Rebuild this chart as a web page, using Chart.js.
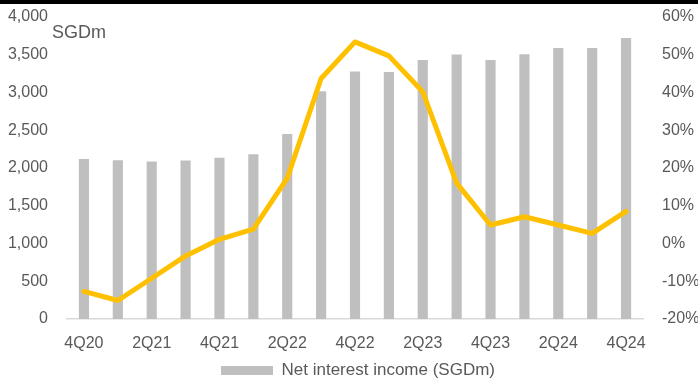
<!DOCTYPE html>
<html>
<head>
<meta charset="utf-8">
<style>
  html, body { margin: 0; padding: 0; background: #ffffff; }
  #wrap { position: relative; width: 698px; height: 383px; }
</style>
<script src="https://cdn.jsdelivr.net/npm/chart.js@4/dist/chart.umd.min.js"></script>
</head>
<body>
<div id="wrap"><canvas id="c" width="698" height="383"></canvas></div>
<script>
// Quarterly net interest income and its year-on-year growth
const quarters = ['4Q20','1Q21','2Q21','3Q21','4Q21','1Q22','2Q22','3Q22','4Q22',
                  '1Q23','2Q23','3Q23','4Q23','1Q24','2Q24','3Q24','4Q24'];
const netInterestIncome = [2120, 2102, 2085, 2098, 2136, 2182, 2450, 3018, 3278,
                           3270, 3432, 3503, 3432, 3507, 3590, 3590, 3723];
const yoyGrowthPct = [-12.7, -15.1, -9.2, -3.3, 1.1, 3.8, 17.3, 43.7, 53.4,
                      49.7, 40.2, 16.0, 4.9, 7.1, 4.9, 2.7, 8.5];
const leftTicks = { min: 0, max: 4000, step: 500 };
const rightTicks = { min: -20, max: 60, step: 10 };
const unitLabel = 'SGDm';

const FONT = "'Liberation Sans', Arial, sans-serif";
const TEXT = '#595959';

// Black rule across the top edge, the unit caption above the left axis,
// and the legend centred under the plot rather than the whole canvas
const decorations = {
  id: 'decorations',
  afterLayout(chart) {
    if (chart.legend) chart.legend.left += 18;
  },
  beforeDraw(chart) {
    const ctx = chart.ctx;
    ctx.save();
    ctx.fillStyle = '#ffffff';
    ctx.fillRect(0, 0, chart.width, chart.height);
    ctx.fillStyle = '#000000';
    ctx.fillRect(0, 0, chart.width, 4);
    ctx.restore();
  },
  afterDraw(chart) {
    const ctx = chart.ctx;
    const a = chart.chartArea;
    ctx.save();
    ctx.font = '18px ' + FONT;
    ctx.fillStyle = TEXT;
    ctx.textAlign = 'left';
    ctx.textBaseline = 'middle';
    ctx.fillText(unitLabel, a.left - 15, a.top + 16);
    ctx.restore();
  }
};

// Fixed axis widths; tick labels may overhang the plot without shrinking it
const fitVertical = width => s => {
  s.width = width;
  s.paddingTop = 0;
  s.paddingBottom = 0;
};

new Chart(document.getElementById('c'), {
  data: {
    labels: quarters,
    datasets: [
      {
        type: 'line',
        label: 'YoY growth',
        data: yoyGrowthPct,
        yAxisID: 'y1',
        borderColor: '#FFC000',
        backgroundColor: '#FFC000',
        borderWidth: 5,
        pointRadius: 0,
        pointHoverRadius: 0,
        tension: 0,
        borderJoinStyle: 'round',
        borderCapStyle: 'round',
        order: 0
      },
      {
        type: 'bar',
        label: 'Net interest income (SGDm)',
        data: netInterestIncome,
        yAxisID: 'y',
        backgroundColor: '#BFBFBF',
        borderWidth: 0,
        categoryPercentage: 1,
        barPercentage: 0.30,
        order: 1
      }
    ]
  },
  options: {
    responsive: false,
    animation: false,
    devicePixelRatio: 1,
    layout: { padding: { top: 17, left: 0, right: 0, bottom: 0 } },
    plugins: {
      tooltip: { enabled: false },
      legend: {
        display: true,
        position: 'bottom',
        maxHeight: 27,
        labels: {
          filter: item => item.datasetIndex === 1,
          boxWidth: 52,
          boxHeight: 9,
          padding: 6,
          color: TEXT,
          font: { family: FONT, size: 17 }
        }
      }
    },
    scales: {
      x: {
        grid: { display: false, drawTicks: false },
        border: { display: true, color: '#D9D9D9', width: 1.5 },
        ticks: {
          autoSkip: false,
          maxRotation: 0,
          padding: 15,
          color: TEXT,
          font: { family: FONT, size: 16 },
          callback: (v, i) => (i % 2 === 0 ? quarters[i] : '')
        },
        afterFit: s => { s.height = 37; }
      },
      y: {
        position: 'left',
        min: leftTicks.min,
        max: leftTicks.max,
        grid: { display: false, drawTicks: false },
        border: { display: false },
        ticks: {
          stepSize: leftTicks.step,
          padding: 19,
          color: TEXT,
          font: { family: FONT, size: 16 },
          callback: v => v.toLocaleString('en-US')
        },
        afterFit: fitVertical(67)
      },
      y1: {
        position: 'right',
        min: rightTicks.min,
        max: rightTicks.max,
        grid: { display: false, drawTicks: false },
        border: { display: false },
        ticks: {
          stepSize: rightTicks.step,
          padding: 19,
          color: TEXT,
          font: { family: FONT, size: 16 },
          callback: v => v + '%'
        },
        afterFit: fitVertical(55)
      }
    }
  },
  plugins: [decorations]
});
</script>
</body>
</html>
